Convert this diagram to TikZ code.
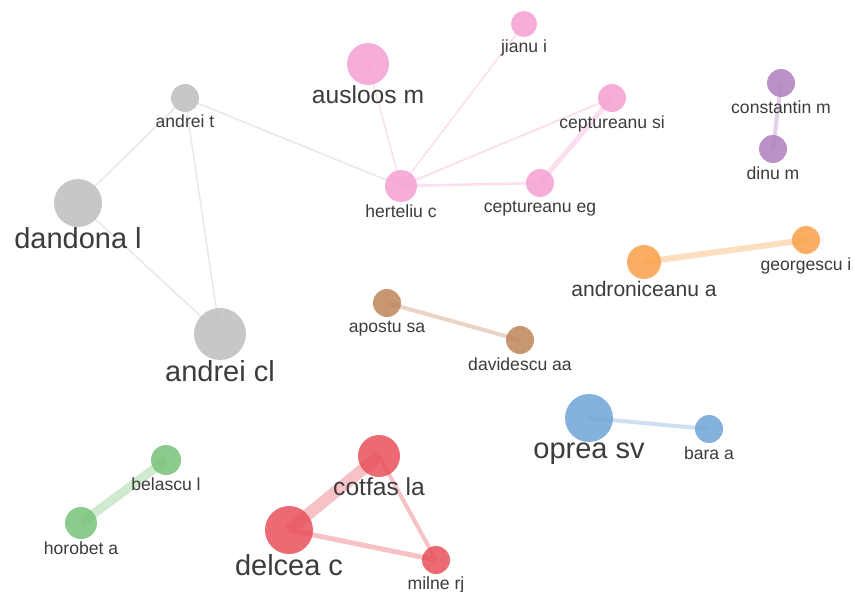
\documentclass[tikz,border=0pt]{standalone}
\usepackage{fontspec}
\setmainfont{Liberation Sans}
\usetikzlibrary{
		positioning,
		backgrounds
	}
\definecolor{txt}{RGB}{60,60,60}
\definecolor{cgray}{RGB}{190,190,190}
\definecolor{cpink}{RGB}{245,160,210}
\definecolor{cpurple}{RGB}{176,127,191}
\definecolor{corange}{RGB}{250,160,72}
\definecolor{cbrown}{RGB}{192,132,90}
\definecolor{cblue}{RGB}{111,165,214}
\definecolor{cgreen}{RGB}{120,194,120}
\definecolor{cred}{RGB}{232,80,91}
\tikzset{
		author/.style 2 args={circle,fill=#1,fill opacity=.85,inner sep=0pt,minimum size=#2*0.4mm},
		link/.style 2 args={draw=#1!35,line width=#2*0.57pt},
		small/.style={text=txt,inner sep=0pt,font=\fontsize{10}{12}\selectfont},
		mid/.style={text=txt,inner sep=0pt,font=\fontsize{12}{14}\selectfont},
		large/.style={text=txt,inner sep=0pt,font=\fontsize{14}{16}\selectfont},
		big/.style={text=txt,inner sep=0pt,font=\fontsize{16.5}{19}\selectfont}
	}
\begin{document}
\begin{tikzpicture}[x=0.02cm,y=-0.02cm]
          \useasboundingbox (0,0) rectangle (854,591);

          % grey cluster
          \node[author={cgray}{14}] (andreit) at (185,98) {};
          \node[author={cgray}{24}] (dandona) at (78,203) {};
          \node[author={cgray}{26}] (andreicl) at (220,334) {};
          \node[small, below=1pt of andreit] (andreit-t) {andrei t};
          \node[big, below=0pt of dandona] (dandona-t) {dandona l};
          \node[big, below=0pt of andreicl] (andreicl-t) {andrei cl};

          % pink cluster
          \node[author={cpink}{21}] (ausloos) at (368,64) {};
          \node[author={cpink}{16}] (herteliu) at (401,186) {};
          \node[author={cpink}{13}] (jianu) at (524,24) {};
          \node[author={cpink}{14}] (ceptsi) at (612,98) {};
          \node[author={cpink}{14}] (cepteg) at (540,183) {};
          \node[large, below=0pt of ausloos] (ausloos-t) {ausloos m};
          \node[small, below=1pt of herteliu] (herteliu-t) {herteliu c};
          \node[small, below=1pt of jianu] (jianu-t) {jianu i};
          \node[small, below=2pt of ceptsi] (ceptsi-t) {ceptureanu si};
          \node[small, below=2pt of cepteg] (cepteg-t) {ceptureanu eg};

          % purple and orange
          \node[author={cpurple}{14}] (constantin) at (781,83) {};
          \node[author={cpurple}{14}] (dinu) at (773,149) {};
          \node[small, below=2pt of constantin] (constantin-t) {constantin m};
          \node[small, below=2pt of dinu] (dinu-t) {dinu m};
          \node[author={corange}{17}] (andron) at (644,262) {};
          \node[author={corange}{14}] (georgescu) at (806,240) {};
          \node[mid, below=1pt of andron] (andron-t) {androniceanu a};
          \node[small, below=2pt of georgescu] (georgescu-t) {georgescu i};

          % brown and blue
          \node[author={cbrown}{14}] (apostu) at (387,303) {};
          \node[author={cbrown}{14}] (davidescu) at (520,340) {};
          \node[small, below=2pt of apostu] (apostu-t) {apostu sa};
          \node[small, below=2pt of davidescu] (davidescu-t) {davidescu aa};
          \node[author={cblue}{24}] (oprea) at (589,418) {};
          \node[author={cblue}{14}] (bara) at (709,429) {};
          \node[big, below=0pt of oprea] (oprea-t) {oprea sv};
          \node[small, below=2pt of bara] (bara-t) {bara a};

          % green and red
          \node[author={cgreen}{15}] (belascu) at (166,460) {};
          \node[author={cgreen}{16}] (horobet) at (81,523) {};
          \node[small, below=1pt of belascu] (belascu-t) {belascu l};
          \node[small, below=1pt of horobet] (horobet-t) {horobet a};
          \node[author={cred}{21}] (cotfas) at (379,456) {};
          \node[author={cred}{24}] (delcea) at (289,530) {};
          \node[author={cred}{14}] (milne) at (436,560) {};
          \node[large, below=0pt of cotfas] (cotfas-t) {cotfas la};
          \node[big, below=0pt of delcea] (delcea-t) {delcea c};
          \node[small, below=1pt of milne] (milne-t) {milne rj};

          \begin{pgfonlayer}{background}
          \fill[white] (0,0) rectangle (854,591);
          \draw[link={cgray}{1.5}] (andreit.center) -- (dandona.center);
          \draw[link={cgray}{1.5}] (andreit.center) -- (andreicl.center);
          \draw[link={cgray}{1.5}] (dandona.center) -- (andreicl.center);
          \draw[link={cgray}{1.5}] (andreit.center) -- (herteliu.center);
          \draw[link={cpink}{1.5}] (herteliu.center) -- (ausloos.center);
          \draw[link={cpink}{1.5}] (herteliu.center) -- (jianu.center);
          \draw[link={cpink}{1.8}] (herteliu.center) -- (ceptsi.center);
          \draw[link={cpink}{2.5}] (herteliu.center) -- (cepteg.center);
          \draw[link={cpink}{5}] (cepteg.center) -- (ceptsi.center);
          \draw[link={cpurple}{4}] (constantin.center) -- (dinu.center);
          \draw[link={corange}{6}] (andron.center) -- (georgescu.center);
          \draw[link={cbrown}{4}] (apostu.center) -- (davidescu.center);
          \draw[link={cblue}{4}] (oprea.center) -- (bara.center);
          \draw[link={cgreen}{9}] (belascu.center) -- (horobet.center);
          \draw[link={cred}{12}] (cotfas.center) -- (delcea.center);
          \draw[link={cred}{4}] (cotfas.center) -- (milne.center);
          \draw[link={cred}{5}] (delcea.center) -- (milne.center);% thicker pair
          \end{pgfonlayer}
\end{tikzpicture}
\end{document}
